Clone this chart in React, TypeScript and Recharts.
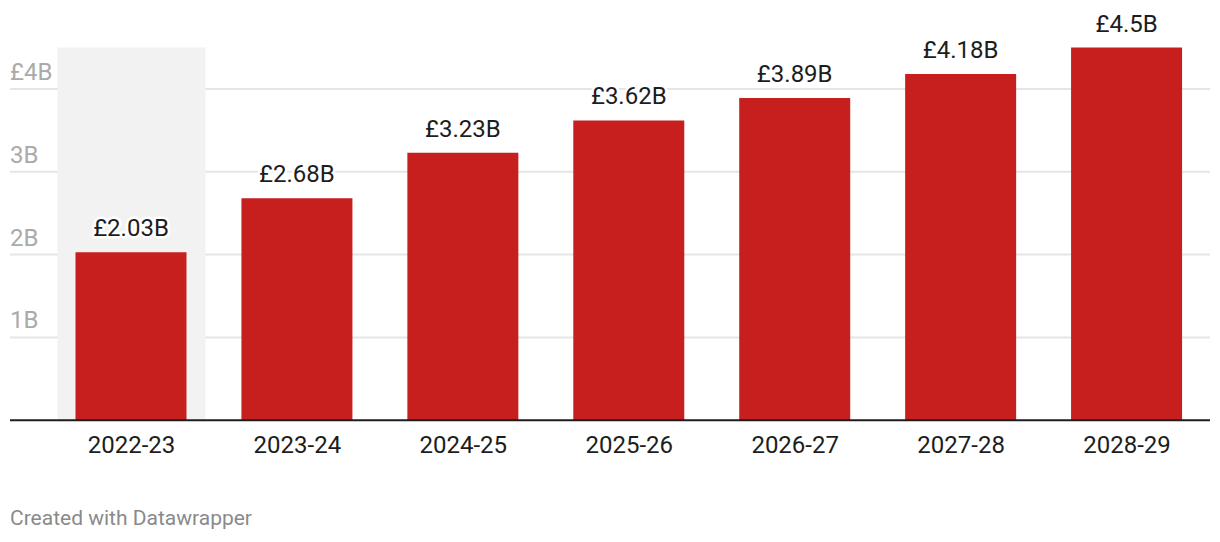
import { Bar, BarChart, CartesianGrid, LabelList, ReferenceLine, XAxis, YAxis } from "recharts";

const years = ["2022-23", "2023-24", "2024-25", "2025-26", "2026-27", "2027-28", "2028-29"];
const spending = [2.03, 2.68, 3.23, 3.62, 3.89, 4.18, 4.5];
const highlight = [4.5, null, null, null, null, null, null];
const yTicks = [0, 1, 2, 3, 4];
const yTickLabels = ["", "1B", "2B", "3B", "£4B"];

const data = years.map((year, i) => ({ year, spending: spending[i], highlight: highlight[i] }));

const FONT = "Roboto, 'Noto Sans', sans-serif";

function YTick({ x, y, payload }: any) {
  const label = yTickLabels[yTicks.indexOf(payload.value)];
  if (!label) return null;
  return (
    <text x={x} y={y - 9} textAnchor="start" fill="#aaaaaa" fontSize={24} fontFamily={FONT}>
      {label}
    </text>
  );
}

function ValueLabel({ x, y, width, value }: any) {
  return (
    <text
      x={x + width / 2}
      y={y - 16}
      textAnchor="middle"
      fill="#1d1d1d"
      fontSize={24}
      fontFamily={FONT}
      stroke="#ffffff"
      strokeWidth={5}
      strokeLinejoin="round"
      paintOrder="stroke"
    >
      {`£${value}B`}
    </text>
  );
}

export default function App() {
  return (
    <div style={{ position: "absolute", left: 0, top: 0, width: 1220, height: 542, background: "#fff", fontFamily: FONT }}>
      <BarChart
        width={1220}
        height={542}
        data={data}
        margin={{ top: 47.5, right: 10, bottom: 81.7, left: -30 }}
      >
        <CartesianGrid vertical={false} horizontalValues={[1, 2, 3, 4]} stroke="#e5e5e5" strokeWidth={2} />
        <XAxis
          dataKey="year"
          padding={{ left: 38.5, right: 0 }}
          axisLine={false}
          tickLine={false}
          tickMargin={10}
          tick={{ fontSize: 24, fill: "#1d1d1d", fontFamily: FONT }}
          height={40}
          interval={0}
        />
        <XAxis xAxisId="bg" dataKey="year" hide padding={{ left: 38.5, right: 0 }} />
        <YAxis
          domain={[0, 4.5]}
          ticks={yTicks}
          width={40}
          axisLine={false}
          tickLine={false}
          tickSize={0}
          tickMargin={0}
          tick={<YTick />}
        />
        <Bar xAxisId="bg" dataKey="highlight" fill="#f2f2f2" barSize={148} isAnimationActive={false} />
        <Bar dataKey="spending" fill="#c71e1e" barSize={111} isAnimationActive={false}>
          <LabelList dataKey="spending" content={<ValueLabel />} />
        </Bar>
        <ReferenceLine y={0} stroke="#1d1d1d" strokeWidth={2} />
      </BarChart>
      <div style={{ position: "absolute", left: 10, top: 506, fontSize: 21, color: "#8a8a8a", lineHeight: "24px" }}>
        Created with Datawrapper
      </div>
    </div>
  );
}
